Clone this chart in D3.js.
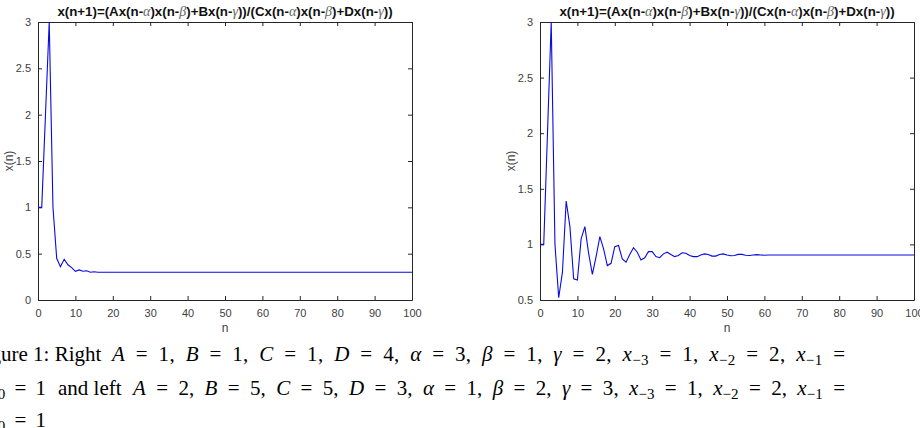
<!DOCTYPE html>
<html>
<head>
<meta charset="utf-8">
<script src="https://cdn.jsdelivr.net/npm/d3@7"></script>
<style>
  body { margin: 0; background: #fff; }
  svg { display: block; }
  .tick text { font-family: "Liberation Sans", Arial, sans-serif; font-size: 11px; fill: #404040; }
  .domain, .tick line { stroke: #262626; }
</style>
</head>
<body>
<div class="graph"></div>
<script>
const w = 920;
const h = 428;

// n = 0..100
const nValues = d3.range(0, 101);

// left panel: A=2, B=5, C=5, D=3
const leftValues = [
  1, 1, 2, 3, 1, 0.45, 0.36, 0.44, 0.38, 0.35,
  0.31, 0.325, 0.31, 0.315, 0.30, 0.305, 0.30, 0.30, 0.30, 0.30,
  0.30, 0.30, 0.30, 0.30, 0.30, 0.30, 0.30, 0.30, 0.30, 0.30,
  0.30, 0.30, 0.30, 0.30, 0.30, 0.30, 0.30, 0.30, 0.30, 0.30,
  0.30, 0.30, 0.30, 0.30, 0.30, 0.30, 0.30, 0.30, 0.30, 0.30,
  0.30, 0.30, 0.30, 0.30, 0.30, 0.30, 0.30, 0.30, 0.30, 0.30,
  0.30, 0.30, 0.30, 0.30, 0.30, 0.30, 0.30, 0.30, 0.30, 0.30,
  0.30, 0.30, 0.30, 0.30, 0.30, 0.30, 0.30, 0.30, 0.30, 0.30,
  0.30, 0.30, 0.30, 0.30, 0.30, 0.30, 0.30, 0.30, 0.30, 0.30,
  0.30, 0.30, 0.30, 0.30, 0.30, 0.30, 0.30, 0.30, 0.30, 0.30,
  0.30
];

// right panel: A=1, B=1, C=1, D=4
const rightValues = [
  1, 1, 2, 3, 1.0, 0.52, 0.75, 1.39, 1.16, 0.69,
  0.68, 1.05, 1.16, 0.92, 0.73, 0.89, 1.07, 0.96, 0.81, 0.83,
  0.98, 0.99, 0.87, 0.84, 0.91, 0.97, 0.93, 0.86, 0.88, 0.935,
  0.935, 0.89, 0.88, 0.915, 0.93, 0.91, 0.89, 0.90, 0.925, 0.92,
  0.90, 0.89, 0.89, 0.905, 0.915, 0.91, 0.895, 0.895, 0.91, 0.915,
  0.905, 0.898, 0.90, 0.91, 0.91, 0.902, 0.90, 0.905, 0.908, 0.905,
  0.903, 0.905, 0.905, 0.905, 0.905, 0.905, 0.905, 0.905, 0.905, 0.905,
  0.905, 0.905, 0.905, 0.905, 0.905, 0.905, 0.905, 0.905, 0.905, 0.905,
  0.905, 0.905, 0.905, 0.905, 0.905, 0.905, 0.905, 0.905, 0.905, 0.905,
  0.905, 0.905, 0.905, 0.905, 0.905, 0.905, 0.905, 0.905, 0.905, 0.905,
  0.905
];

const xTicks = [0, 10, 20, 30, 40, 50, 60, 70, 80, 90, 100];
const leftYTicks = [0, 0.5, 1, 1.5, 2, 2.5, 3];
const rightYTicks = [0.5, 1, 1.5, 2, 2.5, 3];

const titleParts = [
  ["x(n+1)=(Ax(n-", false], ["α", true], [")x(n-", false], ["β", true],
  [")+Bx(n-", false], ["γ", true], ["))/(Cx(n-", false], ["α", true],
  [")x(n-", false], ["β", true], [")+Dx(n-", false], ["γ", true], ["))", false]
];

const canvas = d3.select('.graph')
  .append("svg")
  .attr("width", w)
  .attr("height", h);

const fmt = d => String(d);

function drawPanel(left, right, yDomain, yTicks, values) {
  const top = 22, bottom = 300;
  const xScale = d3.scaleLinear().domain([0, 100]).range([left, right]);
  const yScale = d3.scaleLinear().domain(yDomain).range([bottom, top]);

  const g = canvas.append("g");

  g.append("g")
    .attr("transform", `translate(0, ${bottom})`)
    .call(d3.axisBottom(xScale).tickValues(xTicks).tickFormat(fmt).tickSizeInner(-4).tickSizeOuter(0).tickPadding(9));
  g.append("g")
    .attr("transform", `translate(0, ${top})`)
    .call(d3.axisTop(xScale).tickValues(xTicks).tickSizeInner(-4).tickSizeOuter(0).tickFormat(""));
  g.append("g")
    .attr("transform", `translate(${left}, 0)`)
    .call(d3.axisLeft(yScale).tickValues(yTicks).tickFormat(fmt).tickSizeInner(-4).tickSizeOuter(0).tickPadding(7));
  g.append("g")
    .attr("transform", `translate(${right}, 0)`)
    .call(d3.axisRight(yScale).tickValues(yTicks).tickSizeInner(-4).tickSizeOuter(0).tickFormat(""));

  const line = d3.line()
    .x((d, i) => xScale(nValues[i]))
    .y(d => yScale(d));

  g.append("path")
    .datum(values)
    .attr("fill", "none")
    .attr("stroke", "#0a0ae0")
    .attr("stroke-width", 1.1)
    .attr("d", line);

  // axis labels
  g.append("text")
    .attr("x", (left + right) / 2)
    .attr("y", 332)
    .attr("text-anchor", "middle")
    .style("font-family", "Liberation Sans, Arial, sans-serif")
    .style("font-size", "12px")
    .style("fill", "#404040")
    .text("n");

  g.append("text")
    .attr("transform", `translate(${left - 25}, ${(top + bottom) / 2}) rotate(-90)`)
    .attr("text-anchor", "middle")
    .style("font-family", "Liberation Sans, Arial, sans-serif")
    .style("font-size", "12px")
    .style("fill", "#404040")
    .text("x(n)");

  const title = g.append("text")
    .attr("x", (left + right) / 2)
    .attr("y", 16)
    .attr("text-anchor", "middle")
    .style("font-family", "Liberation Sans, Arial, sans-serif")
    .style("font-size", "13.3px")
    .style("font-weight", "bold")
    .style("fill", "#111");
  titleParts.forEach(p => {
    const t = title.append("tspan").text(p[0]);
    if (p[1]) {
      t.style("font-family", "Liberation Serif, serif")
       .style("font-style", "italic")
       .style("font-weight", "normal")
       .style("font-size", "14px")
       .style("fill", "#666");
    }
  });
}

drawPanel(38, 412, [0, 3], leftYTicks, leftValues);
drawPanel(540, 914, [0.5, 3], rightYTicks, rightValues);

// caption (cut off at the left, like the source)
// each piece: x start, optional stretched width, parts [text, style] with r roman, i italic, s subscript
const captionPieces = [
  { x: -27, y: 361, parts: [["Figure 1: Right", "r"]] },
  { x: 112, y: 361, len: 733, math: true, parts: [
    ["A", "i"], [" = 1, ", "r"], ["B", "i"], [" = 1, ", "r"],
    ["C", "i"], [" = 1, ", "r"], ["D", "i"], [" = 4, ", "r"], ["α", "i"], [" = 3, ", "r"],
    ["β", "i"], [" = 1, ", "r"], ["γ", "i"], [" = 2, ", "r"], ["x", "i"], ["−3", "s"],
    [" = 1, ", "r"], ["x", "i"], ["−2", "s"], [" = 2, ", "r"], ["x", "i"], ["−1", "s"], [" =", "r"]
  ]},
  { x: -11, y: 395, len: 57, math: true, parts: [["x", "i"], ["0", "s"], [" = 1", "r"]] },
  { x: 58, y: 395, parts: [["and left", "r"]] },
  { x: 133, y: 395, len: 712, math: true, parts: [
    ["A", "i"], [" = 2, ", "r"], ["B", "i"], [" = 5, ", "r"],
    ["C", "i"], [" = 5, ", "r"], ["D", "i"], [" = 3, ", "r"], ["α", "i"], [" = 1, ", "r"],
    ["β", "i"], [" = 2, ", "r"], ["γ", "i"], [" = 3, ", "r"], ["x", "i"], ["−3", "s"],
    [" = 1, ", "r"], ["x", "i"], ["−2", "s"], [" = 2, ", "r"], ["x", "i"], ["−1", "s"], [" =", "r"]
  ]},
  { x: -11, y: 427, len: 57, math: true, parts: [["x", "i"], ["0", "s"], [" = 1", "r"]] }
];

captionPieces.forEach(l => {
  const t = canvas.append("text")
    .attr("x", l.x)
    .attr("y", l.y)
    .attr("xml:space", "preserve")
    .style("font-family", "Liberation Serif, Times New Roman, serif")
    .style("font-size", "21px")
    .style("fill", "#000");
  if (l.math) t.style("word-spacing", "5px");
  if (l.len) t.attr("textLength", l.len).attr("lengthAdjust", "spacing");
  let shifted = false;
  l.parts.forEach(p => {
    const s = t.append("tspan").text(p[0]);
    if (p[1] === "i") s.style("font-style", "italic");
    if (p[1] === "s") {
      s.attr("dy", 4).style("font-size", "15px");
      shifted = true;
    } else if (shifted) {
      s.attr("dy", -4);
      shifted = false;
    }
  });
});
</script>
</body>
</html>
